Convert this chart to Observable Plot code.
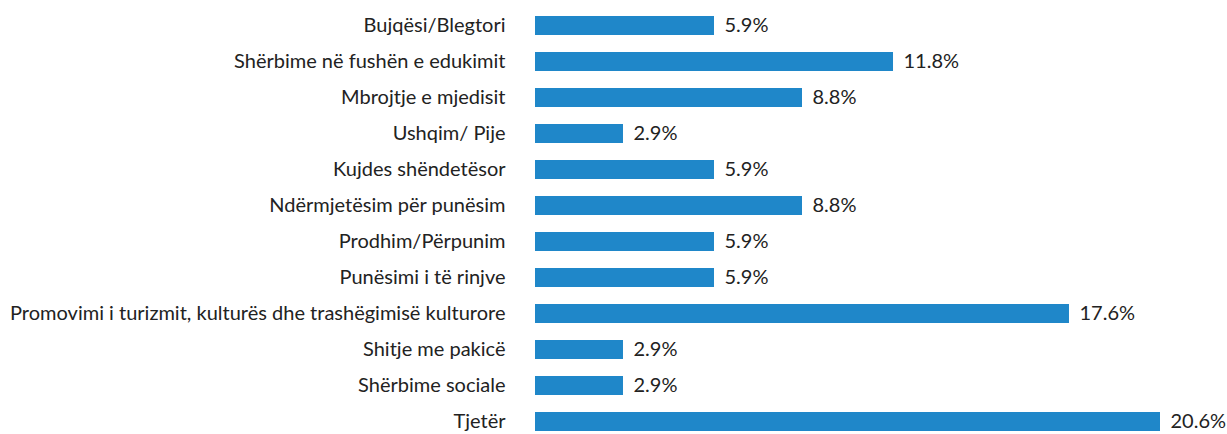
<!DOCTYPE html>
<html>
<head>
<meta charset="utf-8">
<script src="https://cdn.jsdelivr.net/npm/d3@7"></script>
<script src="https://cdn.jsdelivr.net/npm/@observablehq/plot@0.6"></script>
<style>
  body { margin: 0; background: #fff; }
  svg { font-family: Lato, sans-serif; font-weight: 400; }
</style>
</head>
<body>
<div id="chart"></div>
<script>
const categories = [
  "Bujqësi/Blegtori",
  "Shërbime në fushën e edukimit",
  "Mbrojtje e mjedisit",
  "Ushqim/ Pije",
  "Kujdes shëndetësor",
  "Ndërmjetësim për punësim",
  "Prodhim/Përpunim",
  "Punësimi i të rinjve",
  "Promovimi i turizmit, kulturës dhe trashëgimisë kulturore",
  "Shitje me pakicë",
  "Shërbime sociale",
  "Tjetër"
];
const values = [5.9, 11.8, 8.8, 2.9, 5.9, 8.8, 5.9, 5.9, 17.6, 2.9, 2.9, 20.6];
const data = categories.map((c, i) => ({category: c, value: values[i]}));

const chart = Plot.plot({
  width: 1227,
  height: 434,
  marginLeft: 535,
  marginRight: 67,
  marginTop: 13,
  marginBottom: 1,
  style: {fontFamily: "Lato, sans-serif", fontSize: "20px", fontWeight: 400, color: "#222", background: "#fff"},
  x: {domain: [0, 20.6], axis: null},
  y: {domain: categories, padding: 0.48, paddingOuter: 0, label: null},
  marks: [
    Plot.axisY({tickSize: 0, tickPadding: 30, fontSize: 20, fill: "#222", label: null}),
    Plot.barX(data, {x: "value", y: "category", fill: "#1f87c9"}),
    Plot.text(data, {x: "value", y: "category", text: d => d.value.toFixed(1) + "%", dx: 10, textAnchor: "start", fontSize: 20, fill: "#222"})
  ]
});
document.getElementById("chart").appendChild(chart);
</script>
</body>
</html>
